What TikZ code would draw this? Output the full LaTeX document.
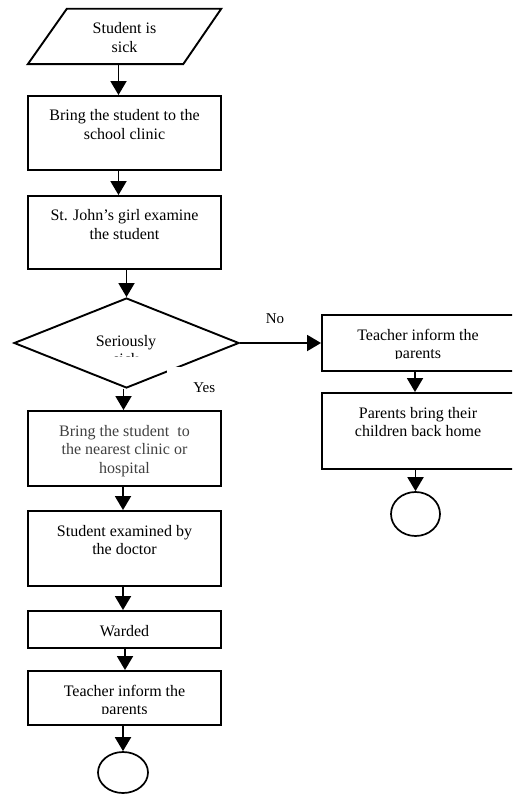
\documentclass[tikz,border=0pt]{standalone}
\usepackage{fontspec}
\setmainfont{Liberation Serif}
\usetikzlibrary{shapes.geometric,arrows.meta}
\newcommand\boxtxt[3]{\parbox[c][#1][t]{#2}{\centering\rule{0pt}{25pt}#3\par}}
\begin{document}
\begin{tikzpicture}[x=1pt,y=-1pt,
  every node/.style={font=\fontsize{16}{18.5}\selectfont},
  box/.style={draw, line width=1.9pt, inner sep=0pt},
  lbl/.style={font=\fontsize{15}{18}\selectfont},
  arr/.style={line width=1.9pt, -{Triangle[length=14pt,width=16pt]}},
  term/.style={ellipse, draw, line width=1.7pt, inner sep=0pt},
]
\clip (0,0) rectangle (512,794);
% start (parallelogram)
\node[inner sep=0pt] (start) at (124.5,36.5) {\boxtxt{55pt}{193pt}{Student is\\sick}};
\draw[line width=1.9pt] ([xshift=39pt]start.north west) -- (start.north east)
  -- ([xshift=-38pt]start.south east) -- (start.south west) -- cycle;
% left column
\node[box] (b1) at (124.5,133) {\boxtxt{74pt}{193pt}{Bring the student to the\\school clinic}};
\node[box] (b2) at (124.5,232.5) {\boxtxt{73pt}{193pt}{St. John’s girl examine\\the student}};
\node[diamond, draw, line width=1.9pt, inner sep=0pt, minimum width=225pt, minimum height=90pt] (d) at (126.5,343) {};
\begin{scope}
  \clip (0,290) rectangle (250,356);
  \node[inner sep=0pt, anchor=north] (dtxt) at (126,321) {\parbox[t]{200pt}{\centering\rule{0pt}{25pt}Seriously\\sick\par}};
\end{scope}
\node[box] (b3) at (124.5,448.5) {\boxtxt{75pt}{193pt}{\color{black!75}Bring the student\ \ to\\the nearest clinic or\\hospital}};
\node[box] (b4) at (124.5,548.5) {\boxtxt{75pt}{193pt}{Student examined by\\the doctor}};
\node[box] (b5) at (124.5,629.5) {\boxtxt{37pt}{193pt}{Warded}};
\node[box, minimum width=193pt, minimum height=54pt] (b6) at (124.5,698) {};
\begin{scope}
  \clip (b6.north west) rectangle ([yshift=12.5pt]b6.south east);
  \node[inner sep=0pt] (b6txt) at (b6) {\boxtxt{54pt}{193pt}{Teacher inform the\\parents}};
\end{scope}
\node[term, minimum width=50pt, minimum height=41pt] (c1) at (123,772.5) {};
% right column
\node[box, minimum width=192pt, minimum height=56pt] (r1) at (418,343) {};
\begin{scope}
  \clip (r1.north west) rectangle ([yshift=13pt]r1.south east);
  \node[inner sep=0pt] (r1txt) at (r1) {\boxtxt{56pt}{192pt}{Teacher inform the\\parents}};
\end{scope}
\node[box] (r2) at (418,431) {\boxtxt{76pt}{192pt}{Parents bring their\\children back home}};
\node[term, minimum width=49pt, minimum height=44pt] (c2) at (415.5,514) {};
% labels
\node[fill=white, inner sep=0pt, anchor=north west, lbl] (yes) at (167,367) {\parbox[c][30pt][t]{74pt}{\centering\rule{0pt}{25pt}Yes\par}};
\node[lbl, anchor=base] (no) at (275,323) {No};
% connectors
\draw[arr] ([xshift=-6pt]start.south) -- ([xshift=-6pt]b1.north);
\draw[arr] ([xshift=-6pt]b1.south) -- ([xshift=-6pt]b2.north);
\draw[arr] (b2.south -| d.north) -- (d.north);
\draw[arr] ([xshift=-3pt]d.south) -- ([xshift=-3pt]d.south |- b3.north);
\draw[arr] ([xshift=-1.5pt]b3.south) -- ([xshift=-1.5pt]b4.north);
\draw[arr] ([xshift=-1.5pt]b4.south) -- ([xshift=-1.5pt]b5.north);
\draw[arr] ([xshift=0.5pt]b5.south) -- ([xshift=0.5pt]b6.north);
\draw[arr] (b6.south -| c1.north) -- (c1.north);
\draw[arr] (d.east) -- (r1.west);
\draw[arr] ([xshift=-3pt]r1.south) -- ([xshift=-3pt]r2.north);
\draw[arr] (r2.south -| c2.north) -- (c2.north);
\end{tikzpicture}
\end{document}
